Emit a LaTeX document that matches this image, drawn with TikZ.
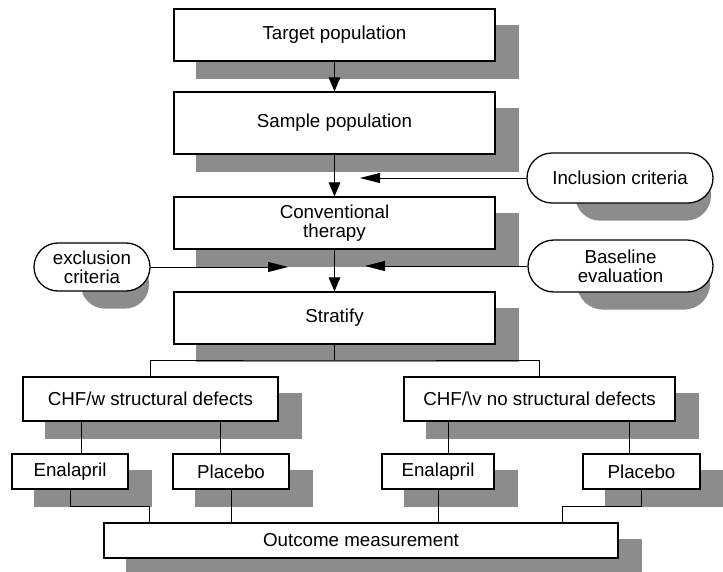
\documentclass[tikz,border=0pt]{standalone}
\usepackage{fontspec}
\setmainfont{Liberation Sans}
\usetikzlibrary{arrows.meta,calc,shapes.misc}
\pgfdeclarelayer{shade}
\pgfdeclarelayer{links}
\pgfsetlayers{shade,links,main}

\begin{document}
\begin{tikzpicture}[
  x=0.3mm, y=-0.3mm,
  fbox/.style={draw, fill=white, line width=1.1pt, align=center, inner sep=0pt,
               font=\fontsize{16}{16}\selectfont},
  pill/.style={fbox, rounded rectangle},
  farr/.style={-{Triangle[length=4.2mm, width=3.5mm]}, line width=0.8pt},
  harr/.style={-{Triangle[length=6mm, width=3mm]}, line width=0.8pt},
  flink/.style={line width=0.8pt},
  shadowfill/.style={fill=black!45}
]
\useasboundingbox (0,0) rectangle (723,572);

% main column
\node[fbox, minimum width=96.3mm, minimum height=15.6mm] (tgt) at (334.5,35) {Target population};
\node[fbox, minimum width=96.3mm, minimum height=18.6mm] (smp) at (334.5,123) {Sample population};
\node[fbox, minimum width=96.3mm, minimum height=15.6mm] (conv) at (334.5,223) {Conventional\\therapy};
\node[fbox, minimum width=96.3mm, minimum height=15.6mm] (strat) at (334.5,318) {Stratify};

% criteria
\node[pill, minimum width=55.8mm, minimum height=15mm] (incl) at (620,178) {Inclusion criteria};
\node[pill, minimum width=34.8mm, minimum height=14.4mm] (excl) at (92,267) {exclusion\\criteria};
\node[pill, minimum width=55.5mm, minimum height=15.6mm] (base) at (620.5,266) {Baseline\\evaluation};

% groups and arms
\node[fbox, minimum width=76.5mm, minimum height=13.2mm] (chfw) at (150.5,399) {CHF/w structural defects};
\node[fbox, minimum width=81.3mm, minimum height=13.2mm] (chfv) at (539.5,399) {CHF/\textbackslash v no structural defects};
\node[fbox, minimum width=34.8mm, minimum height=10.5mm] (enl) at (70,471.5) {Enalapril};
\node[fbox, minimum width=34.8mm, minimum height=10.5mm] (plcl) at (231,471.5) {Placebo};
\node[fbox, minimum width=33.6mm, minimum height=10.5mm] (enr) at (438,471.5) {Enalapril};
\node[fbox, minimum width=35.1mm, minimum height=10.5mm] (plr) at (641.5,471.5) {Placebo};
\node[fbox, minimum width=154.2mm, minimum height=10.5mm] (out) at (361,540.5) {Outcome measurement};

\coordinate (inTip) at (360,178);
\coordinate (exTip) at (288,267);
\coordinate (baTip) at (365,266);
\coordinate (split) at (334.5,360);

% shadows
\begin{pgfonlayer}{shade}
\foreach \n in {tgt,smp,conv,strat,chfw,chfv,enl,plcl,enr,plr,out}
  \fill[shadowfill] ($(\n.south west)+(23,17)$) rectangle ($(\n.north east)+(23,17)$);
\foreach \n/\r in {incl/7.5mm,excl/7.2mm,base/7.8mm}
  \fill[shadowfill, rounded corners=\r] ($(\n.south west)+(23,17)$) rectangle ($(\n.north east)+(23,17)$);
\end{pgfonlayer}

% connectors
\begin{pgfonlayer}{links}
\draw[farr] (tgt.south) -- (smp.north);
\draw[farr] (smp.south) -- (conv.north);
\draw[farr] (conv.south) -- (strat.north);
\draw[harr] (incl.west) -- (inTip);
\draw[harr] (excl.east) -- (exTip);
\draw[harr] (base.west) -- (baTip);
\draw[flink] (strat.south) -- (split);
\draw[flink] (chfw.north) |- (split) -| (chfv.north);
\draw[flink] ([xshift=3.3mm]enl.north) -- ++(0,-33);
\draw[flink] ([xshift=-3.3mm]plcl.north) -- ++(0,-33);
\draw[flink] ([xshift=3mm]enr.north) -- ++(0,-33);
\draw[flink] ([xshift=-3.75mm]plr.north) -- ++(0,-33);
\draw[flink] (enl.south) -- ++(0,17) -| ($(out.north west)+(46,0)$);
\draw[flink] (plcl.south) -- (plcl.south |- out.north);
\draw[flink] (enr.south) -- (enr.south |- out.north);
\draw[flink] (plr.south) -- ++(0,17) -| ($(out.north east)+(-56,0)$);
\end{pgfonlayer}
\end{tikzpicture}
\end{document}
